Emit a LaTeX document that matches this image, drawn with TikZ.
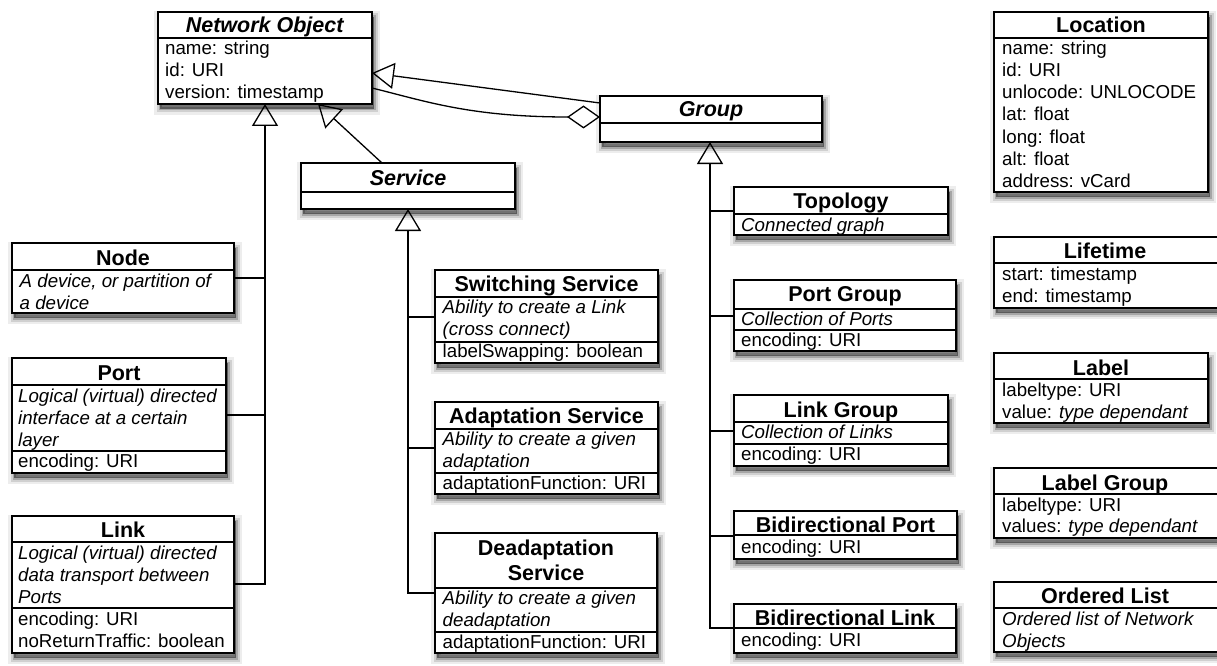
\documentclass[tikz,border=0pt]{standalone}
\usepackage{fontspec}
\setmainfont{Liberation Sans}
\usetikzlibrary{arrows.meta}
\newcounter{tc}
\newcommand{\umlbox}[5]{\node[umlbox, minimum width=#4pt, minimum height=#5pt] (#1) at (#2,#3) {};}
\newcommand{\usep}[2]{\draw[conn] (#1.west |- 0,#2) -- (#1.east |- 0,#2);}
\newcommand{\utitle}[3]{\stepcounter{tc}\node[ttl] (t\arabic{tc}) at (#1,#2) {#3};}
\newcommand{\ubody}[3]{\stepcounter{tc}\node[bodyt] (t\arabic{tc}) at (#1,#2) {#3};}
\begin{document}
\begin{tikzpicture}[x=1pt,y=-1pt,
  shad/.style={
    preaction={transform canvas={shift={(2pt,-5pt)}}, draw=black, draw opacity=0.07, line width=12pt},
    preaction={transform canvas={shift={(2pt,-5pt)}}, draw=black, draw opacity=0.12, line width=7pt},
    preaction={transform canvas={shift={(2pt,-5pt)}}, draw=black, draw opacity=0.2, line width=3pt, fill=black, fill opacity=0.45}},
  umlbox/.style={shad, draw, line width=1.2pt, fill=white, anchor=north west, inner sep=0pt, outer sep=0pt},
  ttl/.style={anchor=base, inner sep=0pt, font=\fontsize{21.5}{24}\selectfont\bfseries},
  bodyt/.style={anchor=base west, inner sep=0pt, font=\fontsize{18.7}{22}\selectfont},
  conn/.style={line width=1.3pt},
  gen/.style={conn, -{Triangle[open, length=22pt, width=26pt]}},
  agg/.style={conn, {Diamond[open, length=33pt, width=23pt]}-}]
\useasboundingbox (0,0) rectangle (1217,666);
\fill[white] (0,0) rectangle (1217,666);

% ---------- boxes ----------
\umlbox{no}{158}{12}{214}{92}
\umlbox{svc}{301}{163}{214}{46}
\umlbox{grp}{600}{96}{222}{46}
\umlbox{topo}{734}{187}{214}{48}
\umlbox{pg}{734}{280}{222}{71}
\umlbox{lg}{734}{395}{214}{71}
\umlbox{bp}{734}{511}{223}{48}
\umlbox{bl}{734}{604}{222}{49}
\umlbox{loc}{994}{12}{214}{180}
\umlbox{life}{994}{237}{224}{71}
\umlbox{lab}{994}{353}{214}{70}
\umlbox{lgp}{994}{468}{224}{70}
\umlbox{ol}{994}{582}{224}{70}
\umlbox{nd}{12}{243}{222}{70}
\umlbox{pt}{12}{358}{214}{115}
\umlbox{lk}{12}{516}{222}{137}
\umlbox{sw}{435}{270}{223}{93}
\umlbox{ad}{435}{402}{223}{92}
\umlbox{de}{435}{533}{222}{120}

% ---------- separators ----------
\usep{no}{38}
\usep{svc}{192}
\usep{grp}{123}
\usep{topo}{214}
\usep{pg}{309}\usep{pg}{330}
\usep{lg}{422}\usep{lg}{444}
\usep{bp}{535}
\usep{bl}{628}
\usep{loc}{38}
\usep{life}{263}
\usep{lab}{379}
\usep{lgp}{494}
\usep{ol}{608}
\usep{nd}{270}
\usep{pt}{385}\usep{pt}{451}
\usep{lk}{542}\usep{lk}{608}
\usep{sw}{297}\usep{sw}{342}
\usep{ad}{429}\usep{ad}{473}
\usep{de}{588}\usep{de}{632}

% ---------- texts ----------
\utitle{265}{33}{\textit{Network Object}}
\ubody{165}{55}{name: string}
\ubody{165}{77}{id: URI}
\ubody{165}{99}{version: timestamp}

\utitle{408}{185}{\textit{Service}}
\utitle{711}{117}{\textit{Group}}

\utitle{841}{208}{Topology}
\ubody{741}{231}{\textit{Connected graph}}

\utitle{845}{301}{Port Group}
\ubody{741}{325.5}{\textit{Collection of Ports}}
\ubody{741}{346.5}{encoding: URI}

\utitle{841}{417}{Link Group}
\ubody{741}{438.5}{\textit{Collection of Links}}
\ubody{741}{460.5}{encoding: URI}

\utitle{845.5}{532}{Bidirectional Port}
\ubody{741}{553}{encoding: URI}

\utitle{845}{625}{Bidirectional Link}
\ubody{741}{646}{encoding: URI}

\utitle{1101}{33}{Location}
\ubody{1002}{55}{name: string}
\ubody{1002}{77}{id: URI}
\ubody{1002}{99}{unlocode: UNLOCODE}
\ubody{1002}{121}{lat: float}
\ubody{1002}{143}{long: float}
\ubody{1002}{165}{alt: float}
\ubody{1002}{187}{address: vCard}

\utitle{1105}{258}{Lifetime}
\ubody{1002}{280}{start: timestamp}
\ubody{1002}{302}{end: timestamp}

\utitle{1101}{375}{Label}
\ubody{1002}{396}{labeltype: URI}
\ubody{1002}{418}{value: \textit{type dependant}}

\utitle{1105}{490}{Label Group}
\ubody{1002}{511}{labeltype: URI}
\ubody{1002}{532}{values: \textit{type dependant}}

\utitle{1105}{603}{Ordered List}
\ubody{1002}{625}{\textit{Ordered list of Network}}
\ubody{1002}{647}{\textit{Objects}}

\utitle{123}{265}{Node}
\ubody{19.5}{287}{\textit{A device, or partition of}}
\ubody{19.5}{309}{\textit{a device}}

\utitle{119}{380}{Port}
\ubody{18}{402}{\textit{Logical (virtual) directed}}
\ubody{18}{424}{\textit{interface at a certain}}
\ubody{18}{446}{\textit{layer}}
\ubody{18}{467}{encoding: URI}

\utitle{123}{537.5}{Link}
\ubody{18}{559}{\textit{Logical (virtual) directed}}
\ubody{18}{581}{\textit{data transport between}}
\ubody{18}{603}{\textit{Ports}}
\ubody{18}{625}{encoding: URI}
\ubody{18}{647}{noReturnTraffic: boolean}

\utitle{546.5}{291.5}{Switching Service}
\ubody{442.5}{313}{\textit{Ability to create a Link}}
\ubody{442.5}{335}{\textit{(cross connect)}}
\ubody{442.5}{357}{labelSwapping: boolean}

\utitle{546.5}{423.5}{Adaptation Service}
\ubody{442.5}{445}{\textit{Ability to create a given}}
\ubody{442.5}{467}{\textit{adaptation}}
\ubody{442.5}{489}{adaptationFunction: URI}

\utitle{546}{555}{Deadaptation}
\utitle{546}{580.5}{Service}
\ubody{442.5}{604}{\textit{Ability to create a given}}
\ubody{442.5}{626}{\textit{deadaptation}}
\ubody{442.5}{648}{adaptationFunction: URI}

% ---------- connectors ----------
% Network Object specialisations (left)
\draw[gen] (lk.east |- 0,584) -| (no.south);
\draw[conn] (nd.east |- 0,278) -- (no.south |- 0,278);
\draw[conn] (pt.east |- 0,415) -- (no.south |- 0,415);
% Service -> Network Object
\draw[gen] (svc.north -| 382,0) -- (no.south -| 318,0);
% Group -> Network Object
\draw[gen] (grp.west |- 0,103) -- (no.east |- 0,73);
% aggregation Group <>-- Network Object
\draw[agg] (grp.west |- 0,117) .. controls (470,117) and (425,101) .. (no.east |- 0,88);
% Service specialisations
\draw[gen] (de.west |- 0,593) -| (svc.south);
\draw[conn] (sw.west |- 0,317) -- (svc.south |- 0,317);
\draw[conn] (ad.west |- 0,448) -- (svc.south |- 0,448);
% Group specialisations
\draw[gen] (bl.west |- 0,628) -| (grp.south -| 710,0);
\draw[conn] (topo.west |- 0,211) -- (710,211);
\draw[conn] (pg.west |- 0,316) -- (710,316);
\draw[conn] (lg.west |- 0,431) -- (710,431);
\draw[conn] (bp.west |- 0,536) -- (710,536);
\end{tikzpicture}
\end{document}
